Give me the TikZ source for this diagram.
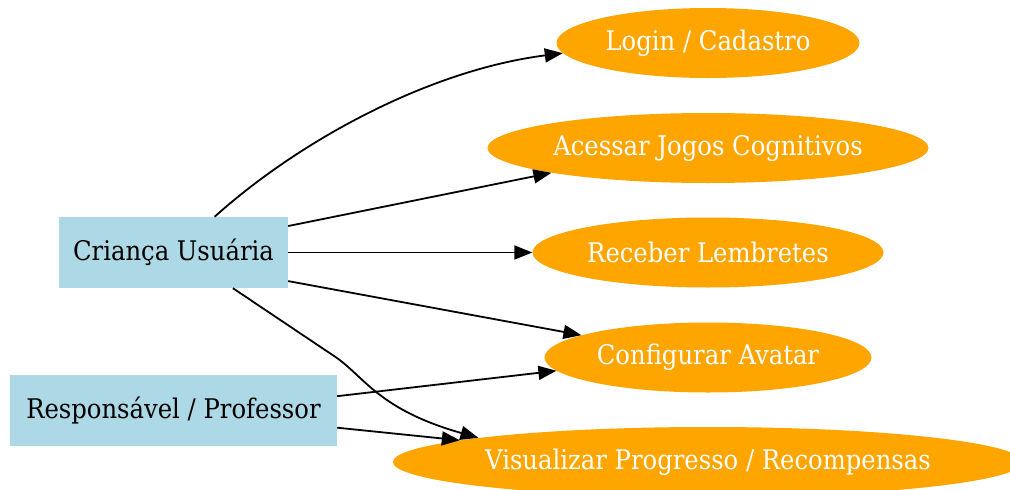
\documentclass[tikz,border=0pt]{standalone}
\usepackage{fontspec}
\setmainfont{DejaVu Serif Condensed}
\usetikzlibrary{shapes.geometric,arrows.meta}
\definecolor{actorblue}{RGB}{173,216,230}
\definecolor{caseorange}{RGB}{255,165,0}
\tikzset{
  actor/.style={rectangle, fill=actorblue, inner sep=0pt, minimum height=71pt,
    font=\fontsize{27}{32}\selectfont, text=black},
  usecase/.style={ellipse, fill=caseorange, inner sep=0pt, minimum height=70pt,
    font=\fontsize{27}{32}\selectfont, text=white},
  link/.style={draw=black, line width=1.8pt, -{Triangle[length=18pt,width=14pt]}},
}
\begin{document}
\begin{tikzpicture}[x=1pt, y=-1pt]
  \useasboundingbox (0,0) rectangle (1010,490);

  % actors
  \node[actor, minimum width=229pt] (crianca) at (173.5,252.5) {Criança Usuária};
  \node[actor, minimum width=327pt] (resp) at (173.5,410.5) {Responsável / Professor};

  % use cases
  \node[usecase, minimum width=303pt] (login) at (708,43) {Login / Cadastro};
  \node[usecase, minimum width=441pt] (jogos) at (708,148) {Acessar Jogos Cognitivos};
  \node[usecase, minimum width=351pt] (lembretes) at (708,252.5) {Receber Lembretes};
  \node[usecase, minimum width=327pt] (avatar) at (708,357.5) {Configurar Avatar};
  \node[usecase, minimum width=620pt] (progresso) at (708,462) {Visualizar Progresso / Recompensas};

  % connectors from the child
  \draw[link] (crianca.41) .. controls (300,140) and (430,70) .. (login.184);
  \draw[link] (crianca.13) -- (jogos.189);
  \draw[link] (crianca.0) -- (lembretes.180);
  \draw[link] (crianca.-14) -- (avatar.170);
  \draw[link] (crianca.-31) -- (337,358)
    .. controls (365,378) and (380,410) .. (progresso.174);

  % connectors from the guardian / teacher
  \draw[link] (resp.5.5) -- (avatar.185);
  \draw[link] (resp.-6.3) -- (progresso.175);
\end{tikzpicture}
\end{document}
